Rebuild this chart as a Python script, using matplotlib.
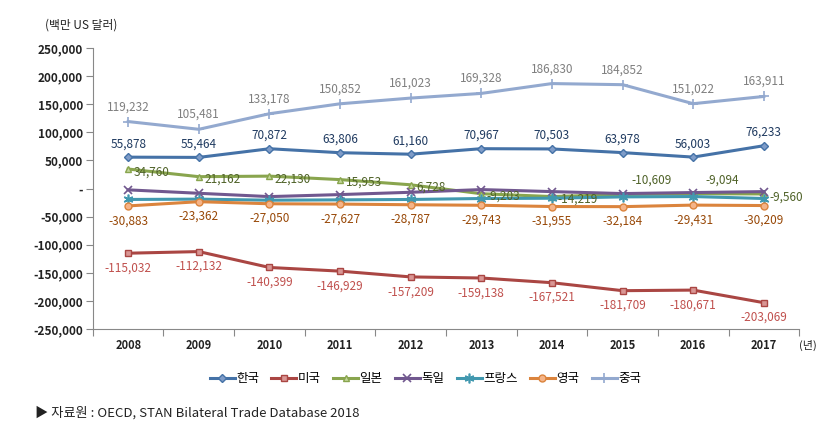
import numpy as np
import matplotlib.pyplot as plt

plt.rcParams['font.family'] = ['Noto Sans CJK KR', 'DejaVu Sans']

years = ['2008', '2009', '2010', '2011', '2012', '2013', '2014', '2015', '2016', '2017']
korea = [55878, 55464, 70872, 63806, 61160, 70967, 70503, 63978, 56003, 76233]
usa = [-115032, -112132, -140399, -146929, -157209, -159138, -167521, -181709, -180671, -203069]
japan = [34760, 21162, 22130, 15953, 6728, -9203, -14219, -10609, -9094, -9560]
germany = [-2300, -8400, -14300, -10700, -6600, -1800, -5400, -8900, -7100, -5400]
france = [-19400, -18800, -20700, -20100, -19400, -17700, -17200, -14800, -14200, -17700]
uk = [-30883, -23362, -27050, -27627, -28787, -29743, -31955, -32184, -29431, -30209]
china = [119232, 105481, 133178, 150852, 161023, 169328, 186830, 184852, 151022, 163911]
names = ['한국', '미국', '일본', '독일', '프랑스', '영국', '중국']

x = np.arange(len(years))

fig = plt.figure(figsize=(8.29, 4.37), dpi=100)
ax = fig.add_axes([0.112, 0.247, 0.852, 0.643])

# line colours / markers (Excel 2007 look)
ax.plot(x, korea, color='#4572A7', lw=2.2, marker='D', ms=4, mfc='#7F9CC8', mec='#4572A7', label=names[0])
ax.plot(x, usa, color='#AA4643', lw=2.2, marker='s', ms=4.5, mfc='#D99694', mec='#AA4643', label=names[1])
ax.plot(x, japan, color='#89A54E', lw=2.2, marker='^', ms=5, mfc='#C3D69B', mec='#89A54E', label=names[2])
ax.plot(x, germany, color='#71588F', lw=2.2, marker='x', ms=6, mew=1.2, label=names[3])
ax.plot(x, france, color='#4198AF', lw=2.2, marker=(6, 2, 0), ms=7, mew=1.2, label=names[4])
ax.plot(x, uk, color='#DB843D', lw=2.2, marker='o', ms=5, mfc='#F5B488', mec='#DB843D', label=names[5])
ax.plot(x, china, color='#93A9CF', lw=2.2, marker='+', ms=7, mew=1.2, label=names[6])

fs = 8.5
for i in x:
    ax.annotate(f'{china[i]:,}', (i, china[i]), xytext=(0, 6), textcoords='offset points',
                ha='center', va='bottom', fontsize=fs, color='#7F7F7F')
    ax.annotate(f'{korea[i]:,}', (i, korea[i]), xytext=(0, 5), textcoords='offset points',
                ha='center', va='bottom', fontsize=fs, color='#1F3A60')
    ax.annotate(f'{usa[i]:,}', (i, usa[i]), xytext=(0, -6), textcoords='offset points',
                ha='center', va='top', fontsize=fs, color='#C0504D')
    ax.annotate(f'{uk[i]:,}', (i, uk[i]), xytext=(0, -6), textcoords='offset points',
                ha='center', va='top', fontsize=fs, color='#984807')
    if i in (7, 8):
        ax.annotate(f'{japan[i]:,}', (i, japan[i]), xytext=(21, 10), textcoords='offset points',
                    ha='center', va='center', fontsize=fs, color='#4F6228')
    else:
        ax.annotate(f'{japan[i]:,}', (i, japan[i]), xytext=(4, -2), textcoords='offset points',
                    ha='left', va='center', fontsize=fs, color='#4F6228')

ax.set_xlim(-0.5, len(years) - 0.5)
ax.set_ylim(-250000, 250000)
yt = np.arange(-250000, 250001, 50000)
ax.set_yticks(yt)
ax.set_yticklabels(['-' if v == 0 else f'{v:,}' for v in yt], fontsize=8.5, fontweight='bold', color='#222222')
ax.set_xticks(np.arange(-0.5, len(years), 1))
ax.set_xticklabels([])
ax.tick_params(axis='x', length=5, color='#888888')
ax.tick_params(axis='y', length=5, color='#888888', pad=2)
for i, yr in enumerate(years):
    ax.text(i, -0.06, yr, transform=ax.get_xaxis_transform(), ha='center', va='center',
            fontsize=8, fontweight='bold', color='#222222')
ax.text(1.0, -0.06, '(년)', transform=ax.transAxes, ha='left', va='center', fontsize=8, color='#222222')

for s in ['top', 'right']:
    ax.spines[s].set_visible(False)
ax.spines['left'].set_color('#888888')
ax.spines['bottom'].set_color('#888888')

fig.text(0.054, 0.943, '(백만 US 달러)', fontsize=8.5, ha='left', va='center', color='#222222')

fig.legend(loc='center', bbox_to_anchor=(0.513, 0.133), ncol=7, frameon=False, fontsize=9,
           handlelength=2.0, handletextpad=0.1, columnspacing=1.0)

fig.text(0.042, 0.055, '▶ 자료원 : OECD, STAN Bilateral Trade Database 2018',
         fontsize=9.5, ha='left', va='center', color='#222222')

fig.savefig('out.png', dpi=100)
